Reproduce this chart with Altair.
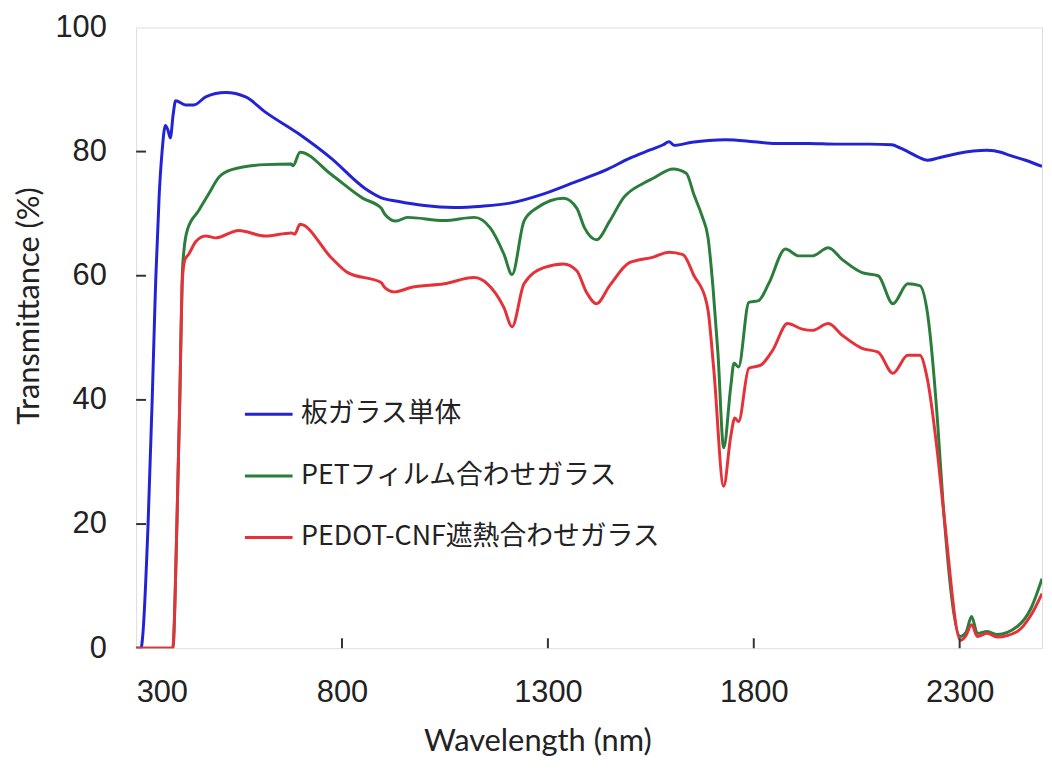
import altair as alt
import pandas as pd

# ---- data ----
names = ["板ガラス単体", "PETフィルム合わせガラス", "PEDOT-CNF遮熱合わせガラス"]
colors = ["#2323d6", "#2b7d3c", "#e5323a"]

glass_wl = [300, 312, 316, 329, 339, 346, 348, 356, 363, 371, 377, 383, 390, 396, 420, 440,
            469, 517, 566, 613, 694, 774, 855, 894, 935, 1000, 1073, 1140, 1208, 1290, 1370,
            1440, 1498, 1550, 1580, 1594, 1607, 1650, 1691, 1732, 1800, 1853, 1933, 2000, 2080,
            2135, 2155, 2174, 2200, 2222, 2250, 2295, 2367, 2400, 2416, 2460, 2500]
glass_t = [0, 0, 2, 20, 40, 56, 60, 73, 80, 84.2, 83.5, 82.2, 86, 88.2, 87.5, 87.5,
           88.8, 89.5, 88.8, 86.4, 82.9, 78.9, 74.1, 72.6, 72, 71.3, 71, 71.2, 71.7, 73.2, 75.2,
           77, 78.9, 80.3, 81.1, 81.6, 81.0, 81.5, 81.8, 81.9, 81.6, 81.3, 81.3, 81.2, 81.2,
           81.1, 80.6, 80, 79.1, 78.6, 79, 79.7, 80.2, 79.9, 79.5, 78.6, 77.6]

pet_wl = [300, 389, 399, 406, 412, 416, 425, 452, 479, 500, 532, 613, 677, 681, 698, 774, 850,
          895, 904, 931, 959, 1048, 1121, 1160, 1193, 1213, 1242, 1273, 1338, 1370, 1389, 1418,
          1450, 1483, 1532, 1556, 1604, 1636, 1655, 1675, 1689, 1701, 1713, 1727, 1744, 1752,
          1763, 1788, 1812, 1836, 1877, 1909, 1942, 1981, 2015, 2063, 2102, 2138, 2174, 2203,
          2222, 2246, 2259, 2302, 2315, 2329, 2343, 2367, 2391, 2440, 2473, 2500]
pet_t = [0, 0, 20, 40, 60, 64, 67.5, 70.5, 73.5, 75.8, 77.1, 77.9, 78, 77.7, 79.9, 76.3, 72.5,
         70.9, 69.9, 68.8, 69.4, 68.9, 69.4, 67.7, 63.5, 60.2, 68.8, 70.9, 72.5, 70.9, 67.7, 65.8,
         68.8, 72.5, 74.9, 75.7, 77.2, 76.5, 73, 69.5, 66.1, 58.1, 47.5, 32.3, 42.1, 45.9,
         45.3, 55.7, 56, 58.7, 64.3, 63.2, 63.2, 64.5, 62.6, 60.5, 60, 55.5, 58.7, 58.4,
         53.9, 36.8, 24, 1.9, 2.5, 5.1, 2.4, 2.7, 2.2, 3.5, 6.4, 11.2]

cnf_wl = [300, 389, 399, 406, 412, 418, 428, 445, 469, 493, 549, 613, 677, 685, 698, 774, 814,
          895, 904, 928, 967, 1048, 1121, 1153, 1193, 1213, 1242, 1290, 1338, 1370, 1394, 1418,
          1450, 1498, 1556, 1594, 1628, 1655, 1684, 1689, 1703, 1727, 1744, 1754, 1763, 1788,
          1817, 1846, 1882, 1918, 1942, 1981, 2015, 2063, 2102, 2138, 2174, 2203, 2222, 2246,
          2263, 2302, 2315, 2329, 2343, 2367, 2391, 2440, 2473, 2500]
cnf_t = [0, 0, 20, 40, 59, 62.5, 63.5, 65.5, 66.4, 66.1, 67.3, 66.4, 66.9, 66.7, 68.3, 62.9, 60.5,
         58.9, 58.1, 57.4, 58.1, 58.7, 59.7, 58.7, 54.9, 51.8, 58.7, 61.3, 61.9, 60.8, 57.3, 55.5,
         58.4, 62.1, 63, 63.8, 63.4, 60, 56, 54.4, 44.8, 26.1, 34.1, 37.1, 36.5, 45.1,
         45.6, 48, 52.3, 51.4, 51.2, 52.3, 50.4, 48.3, 47.7, 44.3, 47.2, 47.2, 43.2, 31.5,
         20.8, 1.3, 2, 3.8, 1.9, 2.4, 1.8, 2.7, 5.3, 8.8]

x_ticks = [300, 800, 1300, 1800, 2300]
y_ticks = [0, 20, 40, 60, 80, 100]

rows = []
for name, wl, t in zip(names, [glass_wl, pet_wl, cnf_wl], [glass_t, pet_t, cnf_t]):
    for w, v in zip(wl, t):
        rows.append({"series": name, "wl": w, "t": v})
df = pd.DataFrame(rows)

W, H = 912, 625
TICK = 10
frame = "#333333"
label_font = "Liberation Sans"
title_font = "Lato"

xscale = alt.Scale(domain=[300, 2500], nice=False, zero=False)
yscale = alt.Scale(domain=[0, 100], nice=False)

lines = alt.Chart(df).mark_line(strokeWidth=3, clip=True, interpolate="monotone").encode(
    x=alt.X("wl:Q", scale=xscale,
            axis=alt.Axis(values=x_ticks, format="d", title="Wavelength (nm)", grid=False,
                          domain=False, ticks=False, labelFont=label_font, labelFontSize=31,
                          labelColor="#222222", labelPadding=30,
                          titleFont=title_font, titleFontSize=31, titleFontWeight="normal",
                          titleColor="#222222", titleX=404, titleY=103,
                          titleAlign="center", titleBaseline="alphabetic")),
    y=alt.Y("t:Q", scale=yscale,
            axis=alt.Axis(values=y_ticks, format="d", title="Transmittance (%)", grid=False,
                          domain=False, ticks=False, labelFont=label_font, labelFontSize=31,
                          labelColor="#222222", labelPadding=30,
                          titleFont=title_font, titleFontSize=31, titleFontWeight="normal",
                          titleColor="#222222", titleX=-107, titleY=280, titleAngle=270,
                          titleAlign="center", titleBaseline="middle")),
    color=alt.Color("series:N", sort=names,
                    scale=alt.Scale(domain=names, range=colors),
                    legend=alt.Legend(title=None, orient="none", legendX=108, legendY=364,
                                      symbolType="stroke", symbolSize=2304,
                                      symbolStrokeWidth=3, labelFontSize=27,
                                      labelFont="Noto Sans CJK JP", labelColor="#222222",
                                      labelOffset=7, rowPadding=23, padding=0,
                                      labelLimit=700)),
)

xt = pd.DataFrame({"v": x_ticks[1:]})
yt = pd.DataFrame({"v": y_ticks[1:-1]})

xticks = alt.Chart(xt).mark_rule(color=frame, strokeWidth=2).encode(
    x=alt.X("v:Q", scale=xscale), y=alt.value(H), y2=alt.value(H - TICK))
yticks = alt.Chart(yt).mark_rule(color=frame, strokeWidth=2).encode(
    y=alt.Y("v:Q", scale=yscale), x=alt.value(0), x2=alt.value(TICK))

chart = alt.layer(lines, xticks, yticks).properties(
    width=W, height=H,
    autosize=alt.AutoSizeParams(type="none"),
    padding={"left": 129, "top": 17, "right": 2, "bottom": 112},
).configure_view(stroke=frame, strokeWidth=3).configure(background="white")

chart.save("out.html", embed_options={"renderer": "svg", "actions": False})
